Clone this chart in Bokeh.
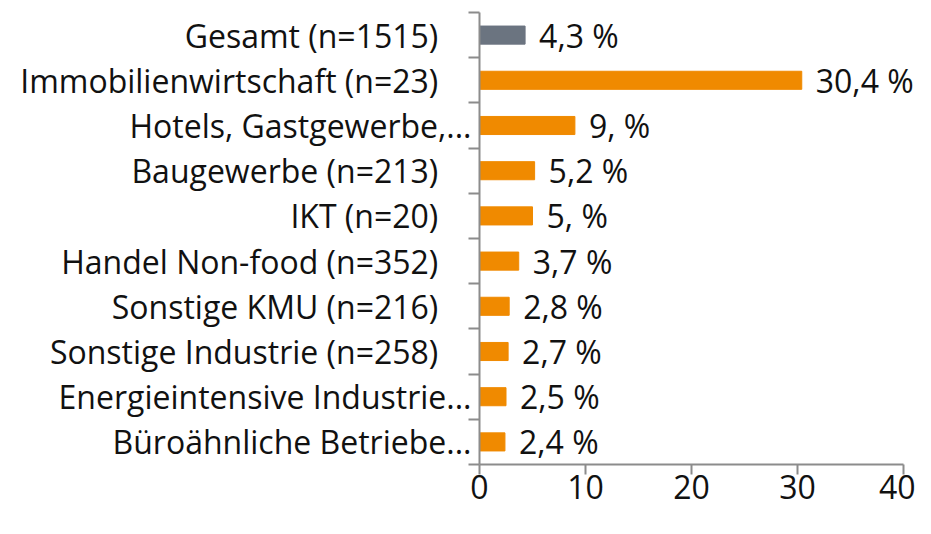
from bokeh.plotting import figure
from bokeh.models import Range1d, FixedTicker, ColumnDataSource
from bokeh.core.properties import value
from bokeh.embed import file_html
from bokeh.resources import INLINE

categories = ["Gesamt (n=1515)", "Immobilienwirtschaft (n=23)", "Hotels, Gastgewerbe,...",
              "Baugewerbe (n=213)", "IKT (n=20)", "Handel Non-food (n=352)",
              "Sonstige KMU (n=216)", "Sonstige Industrie (n=258)",
              "Energieintensive Industrie...", "Büroähnliche Betriebe..."]
values = [4.3, 30.4, 9.0, 5.2, 5.0, 3.7, 2.8, 2.7, 2.5, 2.4]
value_labels = ["4,3 %", "30,4 %", "9, %", "5,2 %", "5, %", "3,7 %", "2,8 %", "2,7 %", "2,5 %", "2,4 %"]
x_ticks = [0, 10, 20, 30, 40]

GRAY = "#6b7480"
ORANGE = "#f08a00"
AXIS = "#8c8c8c"
FONT = "Open Sans"
FS = "32px"

n = len(categories)
ypos = [n - 0.5 - i for i in range(n)]
colors = [GRAY] + [ORANGE] * (n - 1)
truncated = [c.endswith("...") for c in categories]
tick_text = [c if t else c + "\u00a0\u00a0\u00a0\u00a0" for c, t in zip(categories, truncated)]

src = ColumnDataSource(dict(y=ypos, v=values, lab=value_labels, c=colors))

p = figure(width=915, height=518, output_backend="svg", toolbar_location=None,
           x_range=Range1d(0, 41.13), y_range=Range1d(0, n),
           min_border_left=479, min_border_right=0, min_border_top=12, min_border_bottom=54)
p.outline_line_color = None
p.xgrid.visible = False
p.ygrid.visible = False

p.hbar(y="y", right="v", left=0, height=0.4, color="c", source=src)
p.text(x="v", y="y", text="lab", source=src, x_offset=14, text_baseline="middle",
       text_align="left", text_font=value(FONT), text_font_size=FS, text_color="#111111")

xa = p.xaxis[0]
xa.ticker = FixedTicker(ticks=x_ticks)
xa.bounds = (0, 40)
xa.axis_line_color = AXIS
xa.axis_line_width = 2
xa.major_tick_line_color = AXIS
xa.major_tick_line_width = 2
xa.major_tick_out = 10
xa.major_tick_in = 0
xa.minor_tick_line_color = None
xa.major_label_text_font = FONT
xa.major_label_text_font_size = FS
xa.major_label_text_color = "#111111"
xa.major_label_standoff = 0

ya = p.yaxis[0]
ya.ticker = FixedTicker(ticks=ypos, minor_ticks=list(range(n + 1)))
ya.major_label_overrides = {y: t for y, t in zip(ypos, tick_text)}
ya.axis_line_color = AXIS
ya.axis_line_width = 2
ya.major_tick_line_color = None
ya.major_tick_out = 0
ya.major_tick_in = 0
ya.minor_tick_line_color = AXIS
ya.minor_tick_line_width = 2
ya.minor_tick_out = 11
ya.minor_tick_in = 0
ya.major_label_text_font = FONT
ya.major_label_text_font_size = FS
ya.major_label_text_color = "#111111"
ya.major_label_standoff = -3

open("out.html", "w").write(file_html(p, INLINE))
